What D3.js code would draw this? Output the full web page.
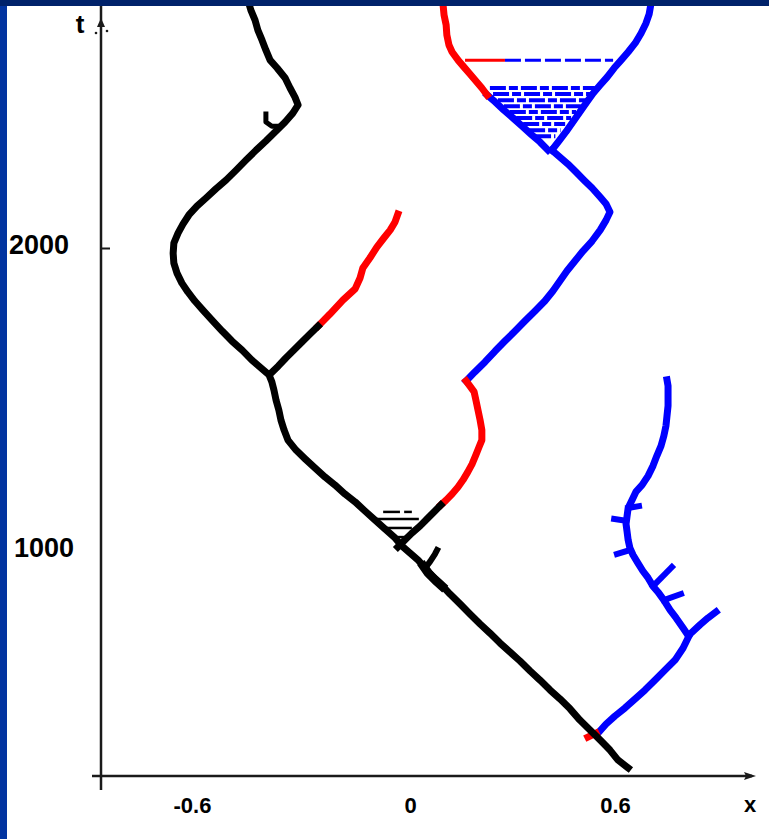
<!DOCTYPE html>
<html>
<head>
<meta charset="utf-8">
<script src="https://cdn.jsdelivr.net/npm/d3@7"></script>
<style>
  html, body { margin: 0; padding: 0; background: #fff; }
  svg { display: block; }
</style>
</head>
<body>
<script>
// Trajectories in the (x, t) plane, stored as [x, t] pairs.
const blackMain = [
  [0.629,284],[0.600,310],[0.577,343],[0.549,376],[0.520,409],[0.491,442],[0.463,479],[0.434,512],
  [0.406,541],[0.377,574],[0.349,604],[0.320,637],[0.291,667],[0.263,696],[0.234,729],[0.206,759],
  [0.177,792],[0.149,825],[0.120,858],[0.091,894],[0.069,917],[0.049,944],[0.029,970],[0.006,993],
  [-0.017,1016],[-0.037,1043],[-0.066,1073],[-0.094,1102],[-0.123,1132],[-0.151,1162],[-0.180,1188],
  [-0.209,1218],[-0.237,1244],[-0.266,1274],[-0.294,1304],[-0.320,1333],[-0.343,1366],[-0.354,1399],
  [-0.363,1432],[-0.369,1465],[-0.377,1498],[-0.383,1531],[-0.389,1558],[-0.397,1581],[-0.417,1601],
  [-0.446,1630],[-0.474,1663],[-0.503,1693],[-0.531,1726],[-0.560,1762],[-0.586,1795],[-0.609,1825],
  [-0.629,1855],[-0.646,1884],[-0.660,1917],[-0.669,1950],[-0.671,1983],[-0.669,2016],[-0.657,2049],
  [-0.643,2079],[-0.626,2109],[-0.603,2138],[-0.577,2165],[-0.549,2195],[-0.520,2224],[-0.491,2257],
  [-0.463,2290],[-0.434,2323],[-0.406,2353],[-0.377,2386],[-0.351,2416],[-0.329,2445],[-0.314,2472],
  [-0.323,2498],[-0.337,2528],[-0.351,2561],[-0.374,2594],[-0.394,2620],[-0.406,2653],[-0.417,2686],
  [-0.429,2719],[-0.437,2752],[-0.449,2785],[-0.454,2805]
];
const blackBranchLow = [
  [-0.029,1013],[-0.009,1036],[0.011,1059],[0.034,1082],[0.057,1109],[0.077,1132],[0.094,1152]
];
const blackBranchHigh = [
  [-0.394,1584],[-0.371,1610],[-0.349,1637],[-0.326,1663],[-0.303,1690],[-0.280,1716],[-0.257,1742]
];
const blackHook = [[-0.406,2442],[-0.406,2416],[-0.389,2402],[-0.366,2402]];
const blackSpike = [[0.049,944],[0.063,965],[0.077,990],[0.083,1003]];
const blackThick = [[0.097,884],[0.078,904],[0.058,927],[0.044,950]];

const redMiddle = [
  [0.094,1152],[0.109,1168],[0.126,1188],[0.143,1211],[0.157,1234],[0.171,1261],[0.183,1287],
  [0.194,1317],[0.203,1343],[0.211,1366],[0.211,1399],[0.206,1432],[0.200,1465],[0.194,1498],
  [0.189,1525],[0.177,1544],[0.166,1561]
];
const redUpper = [
  [-0.257,1742],[-0.223,1782],[-0.186,1828],[-0.151,1865],[-0.137,1901],[-0.129,1934],[-0.109,1967],
  [-0.089,2003],[-0.069,2033],[-0.051,2059],[-0.037,2086],[-0.029,2112]
];
const redTop = [
  [0.100,2805],[0.103,2769],[0.109,2736],[0.111,2703],[0.117,2670],[0.126,2647],[0.143,2620],
  [0.160,2597],[0.177,2574],[0.194,2551],[0.211,2528],[0.226,2505]
];
const redStub = [[0.514,386],[0.537,399]];

const blueMiddle = [
  [0.166,1561],[0.191,1591],[0.220,1624],[0.249,1660],[0.277,1693],[0.306,1726],[0.334,1759],
  [0.363,1792],[0.391,1825],[0.414,1858],[0.434,1891],[0.454,1924],[0.477,1957],[0.500,1990],
  [0.526,2023],[0.549,2059],[0.566,2092],[0.577,2119],[0.566,2145],[0.549,2168],[0.526,2198],
  [0.503,2224],[0.480,2251],[0.457,2277],[0.434,2300],[0.411,2323]
];
const blueFanLeft = [
  [0.226,2505],[0.249,2482],[0.274,2455],[0.300,2429],[0.326,2402],[0.351,2376],[0.377,2350],[0.400,2323]
];
const blueFanRight = [
  [0.411,2323],[0.431,2353],[0.451,2383],[0.471,2416],[0.491,2449],[0.511,2482],[0.529,2511],
  [0.549,2538],[0.569,2564],[0.589,2594],[0.609,2620],[0.629,2647],[0.649,2676],[0.666,2709],
  [0.680,2742],[0.689,2772],[0.694,2805]
];
const blueLower = [
  [0.543,399],[0.566,429],[0.591,455],[0.620,482],[0.649,512],[0.677,541],[0.706,574],[0.734,607],
  [0.763,640],[0.786,680],[0.800,713],[0.806,726],[0.834,756],[0.857,779],[0.880,799]
];
const blueStem = [
  [0.800,722],[0.786,746],[0.766,779],[0.749,805],[0.731,838],[0.714,865],[0.700,884],[0.686,911],
  [0.671,934],[0.657,960],[0.643,987],[0.634,1010],[0.629,1036],[0.626,1063],[0.623,1089],
  [0.626,1116],[0.629,1142],[0.640,1168],[0.651,1195],[0.669,1218],[0.686,1248],[0.700,1281],
  [0.711,1314],[0.723,1347],[0.731,1380],[0.737,1413],[0.740,1446],[0.743,1479],[0.743,1512],
  [0.743,1545],[0.740,1565]
];
// short side branches off the lower right trajectory: [x0, t0, x1, t1]
const blueTwigs = [
  [0.634,1003,0.597,990],
  [0.623,1100,0.589,1106],
  [0.629,1142,0.660,1148],
  [0.700,884,0.754,947],
  [0.731,838,0.780,858]
];

// Horizontal links between branches: [t, x1, x2]
const blueHatch = [
  [2528,0.234,0.534],[2508,0.243,0.523],[2488,0.257,0.509],[2468,0.274,0.494],
  [2449,0.291,0.480],[2429,0.309,0.466],[2409,0.329,0.449],[2389,0.346,0.436],[2369,0.363,0.421]
];
const blackHatch = [
  [1129,-0.071,-0.023],[1129,-0.011,0.011],[1106,-0.091,0.031],[1076,-0.063,0.011],[1046,-0.043,-0.006]
];
const topLinkRed = [2620, 0.163, 0.277];
const topLinkBlue = [2620, 0.277, 0.586];

const xTicks = [-0.6, 0, 0.6];
const yTicks = [1000, 2000];

const W = 769, H = 839;
const svg = d3.select("body").append("svg").attr("width", W).attr("height", H);

const x = d3.scaleLinear().domain([0, 0.6]).range([408, 618]);
const y = d3.scaleLinear().domain([0, 2000]).range([854, 248]);

const axisX = 101, axisY = 776;

const plot = svg.append("g");
const line = d3.line().x(d => x(d[0])).y(d => y(d[1]));

const BLACK = "#000", RED = "#ff0000", BLUE = "#0000ff";

function hatch(rows, color, width, dash) {
  plot.append("g").selectAll("line").data(rows).join("line")
    .attr("x1", d => x(d[1])).attr("x2", d => x(d[2]))
    .attr("y1", d => y(d[0])).attr("y2", d => y(d[0]))
    .attr("stroke", color).attr("stroke-width", width)
    .attr("stroke-dasharray", dash || null);
}
hatch(blueHatch, BLUE, 4, "16,3,9,3");
hatch(blackHatch, BLACK, 2.5, null);
hatch([topLinkRed], RED, 3, null);
hatch([topLinkBlue], BLUE, 3, "16,4");

function path(data, color, width) {
  plot.append("path").datum(data)
    .attr("d", line).attr("fill", "none")
    .attr("stroke", color).attr("stroke-width", width)
    .attr("stroke-linejoin", "round").attr("stroke-linecap", "square");
}
[blueMiddle, blueFanLeft, blueFanRight, blueLower, blueStem].forEach(d => path(d, BLUE, 7));
plot.append("g").selectAll("line").data(blueTwigs).join("line")
  .attr("x1", d => x(d[0])).attr("y1", d => y(d[1]))
  .attr("x2", d => x(d[2])).attr("y2", d => y(d[3]))
  .attr("stroke", BLUE).attr("stroke-width", 6).attr("stroke-linecap", "square");
[redMiddle, redUpper, redTop, redStub].forEach(d => path(d, RED, 7));
[blackMain, blackBranchLow, blackBranchHigh].forEach(d => path(d, BLACK, 7));
path(blackHook, BLACK, 5);
path(blackSpike, BLACK, 6);
path(blackThick, BLACK, 9);

// Axes
const axisColor = "#1a1a1a";
svg.append("line").attr("x1", axisX).attr("x2", axisX).attr("y1", 0).attr("y2", 790)
  .attr("stroke", axisColor).attr("stroke-width", 2.5);
svg.append("line").attr("x1", 92).attr("x2", 752).attr("y1", axisY).attr("y2", axisY)
  .attr("stroke", axisColor).attr("stroke-width", 2.5);
svg.append("path").attr("d", `M756,${axisY} L744,${axisY - 4} L746,${axisY} L744,${axisY + 4} Z`)
  .attr("fill", axisColor);
svg.append("path").attr("d", `M${axisX},18 L${axisX - 4},27 L${axisX + 4},27 Z`).attr("fill", axisColor);
svg.append("circle").attr("cx", 96).attr("cy", 33).attr("r", 1.3).attr("fill", axisColor);
svg.append("circle").attr("cx", 107).attr("cy", 31).attr("r", 1.3).attr("fill", axisColor);

const gy = svg.append("g").attr("transform", `translate(${axisX},0)`)
  .call(d3.axisLeft(y).tickValues(yTicks).tickSize(-9).tickPadding(31).tickFormat(d3.format("d")));
gy.select(".domain").remove();
gy.selectAll(".tick line").attr("stroke", axisColor).attr("stroke-width", 2)
  .filter(d => d === 1000).remove();
gy.selectAll(".tick text")
  .attr("font-family", "Liberation Sans, Arial, sans-serif").attr("font-weight", "bold")
  .attr("font-size", 27).attr("fill", "#000").attr("y", -3)
  .attr("dx", d => d === 1000 ? 4 : -1);

const gx = svg.append("g").attr("transform", `translate(0,${axisY})`)
  .call(d3.axisBottom(x).tickValues(xTicks).tickSize(0).tickPadding(21)
    .tickFormat(d => d === 0 ? "0" : d.toFixed(1)));
gx.select(".domain").remove();
gx.selectAll(".tick text")
  .attr("font-family", "Liberation Sans, Arial, sans-serif").attr("font-weight", "bold")
  .attr("font-size", 22).attr("fill", "#000")
  .attr("dx", d => d < 0 ? -6 : (d > 0 ? -3 : 2));

svg.append("text").attr("x", 750).attr("y", 812).attr("text-anchor", "middle")
  .attr("font-family", "Liberation Sans, Arial, sans-serif").attr("font-weight", "bold")
  .attr("font-size", 22).text("x");
svg.append("text").attr("x", 80).attr("y", 33).attr("text-anchor", "middle")
  .attr("font-family", "Liberation Sans, Arial, sans-serif").attr("font-weight", "bold")
  .attr("font-size", 26).text("t");

// Slide frame
svg.append("rect").attr("x", 0).attr("y", 0).attr("width", 7).attr("height", H).attr("fill", "#0234a0");
svg.append("rect").attr("x", 0).attr("y", 0).attr("width", W).attr("height", 6).attr("fill", "#00226a");
</script>
</body>
</html>
